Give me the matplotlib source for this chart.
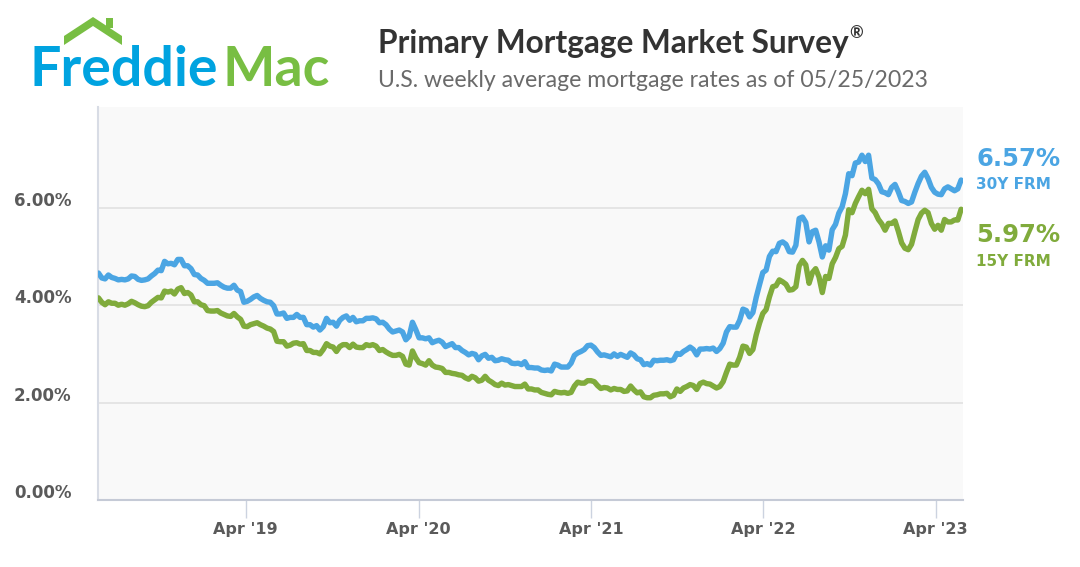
import pandas as pd
import matplotlib
matplotlib.use("Agg")
from matplotlib import pyplot as plt
from matplotlib.patches import Polygon, Rectangle
from matplotlib.transforms import ScaledTranslation

# weekly PMMS averages, first survey week 2018-05-24, last 2023-05-25
first_week = "2018-05-24"

rate_30y = [
    # 2018
    4.66, 4.56, 4.54, 4.62, 4.57, 4.55, 4.52, 4.53, 4.52, 4.54, 4.60, 4.59, 4.53, 4.51,
    4.52, 4.54, 4.60, 4.65, 4.72, 4.71, 4.90, 4.85, 4.86, 4.83, 4.94, 4.94, 4.81, 4.81,
    4.75, 4.63, 4.62, 4.55,
    # 2019
    4.51, 4.45, 4.45, 4.45, 4.46, 4.41, 4.37, 4.35, 4.35, 4.41, 4.31, 4.28, 4.06, 4.08,
    4.12, 4.17, 4.20, 4.14, 4.10, 4.07, 4.06, 3.99, 3.82, 3.82, 3.84, 3.73, 3.75, 3.75,
    3.81, 3.75, 3.75, 3.60, 3.60, 3.55, 3.58, 3.49, 3.56, 3.73, 3.64, 3.65, 3.57, 3.69,
    3.75, 3.78, 3.69, 3.75, 3.66, 3.68, 3.68, 3.73, 3.73, 3.74,
    # 2020
    3.72, 3.64, 3.65, 3.60, 3.51, 3.45, 3.47, 3.49, 3.45, 3.29, 3.36, 3.65, 3.50, 3.33,
    3.33, 3.31, 3.33, 3.23, 3.26, 3.28, 3.24, 3.15, 3.18, 3.21, 3.13, 3.13, 3.07, 3.03,
    2.98, 3.01, 2.99, 2.88, 2.96, 2.99, 2.91, 2.93, 2.86, 2.87, 2.90, 2.88, 2.87, 2.81,
    2.80, 2.81, 2.78, 2.84, 2.72, 2.72, 2.71, 2.71, 2.67, 2.66, 2.67,
    # 2021
    2.65, 2.79, 2.77, 2.73, 2.73, 2.73, 2.81, 2.97, 3.02, 3.05, 3.09, 3.17, 3.18, 3.13,
    3.04, 2.97, 2.98, 2.96, 2.94, 3.00, 2.95, 2.99, 2.96, 2.93, 3.02, 2.98, 2.90, 2.88,
    2.78, 2.80, 2.77, 2.87, 2.86, 2.87, 2.87, 2.88, 2.86, 2.88, 3.01, 2.99, 3.05, 3.09,
    3.14, 3.09, 2.98, 3.10, 3.10, 3.11, 3.10, 3.12, 3.05, 3.11,
    # 2022
    3.22, 3.45, 3.56, 3.55, 3.55, 3.69, 3.92, 3.89, 3.76, 3.85, 4.16, 4.42, 4.67, 4.72,
    5.00, 5.11, 5.10, 5.27, 5.30, 5.25, 5.10, 5.09, 5.23, 5.78, 5.81, 5.70, 5.30, 5.51,
    5.54, 5.30, 4.99, 5.22, 5.13, 5.55, 5.66, 5.89, 6.02, 6.29, 6.70, 6.66, 6.92, 6.94,
    7.08, 6.95, 7.08, 6.61, 6.58, 6.49, 6.33, 6.31, 6.27, 6.42,
    # 2023
    6.48, 6.33, 6.15, 6.13, 6.09, 6.12, 6.32, 6.50, 6.65, 6.73, 6.60, 6.42, 6.32, 6.28,
    6.27, 6.39, 6.43, 6.39, 6.35, 6.39, 6.57,
]

rate_15y = [
    # 2018
    4.15, 4.06, 4.01, 4.07, 4.04, 4.04, 4.00, 4.02, 4.00, 4.03, 4.08, 4.05, 4.01, 3.98,
    3.97, 3.99, 4.06, 4.11, 4.16, 4.15, 4.29, 4.27, 4.29, 4.23, 4.33, 4.36, 4.24, 4.26,
    4.21, 4.07, 4.07, 4.01,
    # 2019
    3.99, 3.89, 3.88, 3.88, 3.89, 3.84, 3.81, 3.78, 3.77, 3.83, 3.76, 3.71, 3.57, 3.56,
    3.60, 3.62, 3.64, 3.60, 3.57, 3.53, 3.51, 3.46, 3.26, 3.25, 3.25, 3.16, 3.18, 3.22,
    3.23, 3.20, 3.21, 3.07, 3.07, 3.03, 3.03, 3.00, 3.09, 3.21, 3.16, 3.14, 3.05, 3.15,
    3.19, 3.19, 3.13, 3.20, 3.14, 3.13, 3.13, 3.19, 3.17, 3.19,
    # 2020
    3.16, 3.07, 3.09, 3.04, 3.00, 2.97, 2.97, 2.99, 2.95, 2.79, 2.77, 3.06, 2.92, 2.82,
    2.80, 2.77, 2.86, 2.77, 2.73, 2.72, 2.70, 2.62, 2.62, 2.60, 2.59, 2.57, 2.56, 2.51,
    2.48, 2.54, 2.51, 2.44, 2.46, 2.54, 2.46, 2.42, 2.37, 2.35, 2.40, 2.36, 2.37, 2.35,
    2.33, 2.33, 2.33, 2.38, 2.28, 2.28, 2.26, 2.26, 2.21, 2.19, 2.17,
    # 2021
    2.16, 2.23, 2.21, 2.20, 2.21, 2.19, 2.21, 2.34, 2.42, 2.40, 2.40, 2.45, 2.45, 2.43,
    2.35, 2.29, 2.31, 2.30, 2.26, 2.29, 2.27, 2.27, 2.23, 2.24, 2.34, 2.26, 2.20, 2.22,
    2.12, 2.10, 2.10, 2.15, 2.16, 2.18, 2.18, 2.19, 2.12, 2.15, 2.28, 2.23, 2.30, 2.33,
    2.37, 2.35, 2.27, 2.39, 2.42, 2.39, 2.38, 2.34, 2.30, 2.33,
    # 2022
    2.43, 2.62, 2.79, 2.77, 2.77, 2.93, 3.16, 3.14, 3.01, 3.09, 3.39, 3.63, 3.83, 3.91,
    4.17, 4.38, 4.40, 4.52, 4.48, 4.43, 4.31, 4.32, 4.38, 4.81, 4.92, 4.83, 4.45, 4.67,
    4.75, 4.58, 4.26, 4.59, 4.55, 4.85, 4.98, 5.16, 5.21, 5.44, 5.96, 5.90, 6.09, 6.23,
    6.36, 6.29, 6.38, 5.98, 5.90, 5.76, 5.67, 5.54, 5.68, 5.68,
    # 2023
    5.73, 5.52, 5.28, 5.17, 5.14, 5.25, 5.51, 5.76, 5.89, 5.95, 5.90, 5.68, 5.56, 5.64,
    5.54, 5.76, 5.71, 5.71, 5.75, 5.75, 5.97,
]

tick_dates = ["2019-04-01", "2020-04-01", "2021-04-01", "2022-04-01", "2023-04-01"]
tick_labels = ["Apr '19", "Apr '20", "Apr '21", "Apr '22", "Apr '23"]
y_ticks = [0, 2, 4, 6]
y_labels = ["0.00%", "2.00%", "4.00%", "6.00%"]

BLUE = "#4ba5e3"
GREEN = "#80ab3c"
LOGO_BLUE = "#00a3e0"
LOGO_GREEN = "#78be43"
FONT = "Lato"
NUMFONT = "DejaVu Sans"

weeks = pd.date_range(first_week, periods=len(rate_30y), freq="7D")

W, H = 1080, 567
fig = plt.figure(figsize=(W / 100, H / 100), dpi=100)
ax = fig.add_axes([98 / W, 1 - 500 / H, (963 - 98) / W, (500 - 107) / H])
ax.set_facecolor("#f9f9f9")

ax.plot(weeks, rate_30y, color=BLUE, lw=3.9, solid_joinstyle="round",
        solid_capstyle="round", zorder=3)
ax.plot(weeks, rate_15y, color=GREEN, lw=3.9, solid_joinstyle="round",
        solid_capstyle="round", zorder=3)

ax.set_ylim(0, 8.07)
ax.set_xlim(weeks[0] - pd.Timedelta(days=1), weeks[-1] + pd.Timedelta(days=4))

ax.set_yticks(y_ticks)
ax.set_yticklabels(y_labels, fontfamily=NUMFONT, fontweight="bold", fontsize=12,
                   color="#5a5a5a")
ax.tick_params(axis="y", length=0, pad=19)
for lbl in ax.get_yticklabels():
    lbl.set_transform(lbl.get_transform() + ScaledTranslation(0, 0.09, fig.dpi_scale_trans))
ax.grid(axis="y", color="#e1e1e1", lw=1.2)
ax.set_axisbelow(True)

ax.set_xticks(pd.to_datetime(tick_dates))
ax.set_xticklabels(tick_labels, fontfamily=NUMFONT, fontweight="bold", fontsize=11.5,
                   color="#5a5a5a")
ax.tick_params(axis="x", length=13, width=1, color="#ccd3e0", pad=3)

for s in ["top", "right"]:
    ax.spines[s].set_visible(False)
ax.spines["left"].set_color("#d8dce5")
ax.spines["left"].set_linewidth(1.5)
ax.spines["bottom"].set_color("#c5cad6")
ax.spines["bottom"].set_linewidth(1.5)

# right-hand latest values
fig.text(976 / W, 1 - 159 / H, f"{rate_30y[-1]:.2f}%", color=BLUE, fontsize=17.5,
         fontweight="bold", fontfamily=NUMFONT, va="center", ha="left")
fig.text(976 / W, 1 - 185 / H, "30Y FRM", color=BLUE, fontsize=11,
         fontweight="bold", fontfamily=NUMFONT, va="center", ha="left")
fig.text(976 / W, 1 - 235 / H, f"{rate_15y[-1]:.2f}%", color=GREEN, fontsize=17.5,
         fontweight="bold", fontfamily=NUMFONT, va="center", ha="left")
fig.text(976 / W, 1 - 262 / H, "15Y FRM", color=GREEN, fontsize=11,
         fontweight="bold", fontfamily=NUMFONT, va="center", ha="left")

# header
title = fig.text(378 / W, 1 - 43 / H, "Primary Mortgage Market Survey", color="#333333",
                 fontsize=22.8, fontweight="bold", fontfamily=FONT, va="center", ha="left")
fig.canvas.draw()
bb = title.get_window_extent()
fig.text((bb.x1 + 1) / W, 1 - 33 / H, "\u00ae", color="#333333", fontsize=12,
         fontweight="bold", fontfamily=FONT, va="center", ha="left")
fig.text(378 / W, 1 - 81 / H, "U.S. weekly average mortgage rates as of 05/25/2023",
         color="#6a6a6a", fontsize=16.6, fontfamily=FONT, va="center", ha="left")

# logo
fred = fig.text(30 / W, 1 - 86 / H, "Freddie", color=LOGO_BLUE, fontsize=40,
                fontfamily=FONT, fontweight="bold", va="baseline", ha="left")
fig.canvas.draw()
fb = fred.get_window_extent()
fig.text((fb.x1 + 4) / W, 1 - 86 / H, "Mac", color=LOGO_GREEN, fontsize=40,
         fontfamily=FONT, fontweight="bold", va="baseline", ha="left")
roof_px = [(64, 36), (93, 17), (122, 36), (122, 45), (93, 26), (64, 45)]
fig.add_artist(Polygon([(x / W, 1 - y / H) for x, y in roof_px], closed=True,
                       transform=fig.transFigure, color=LOGO_GREEN, lw=0))
fig.add_artist(Rectangle((106 / W, 1 - 28 / H), 7 / W, 10 / H,
                         transform=fig.transFigure, color=LOGO_GREEN, lw=0))

fig.savefig("out.png", dpi=100, facecolor="white")
